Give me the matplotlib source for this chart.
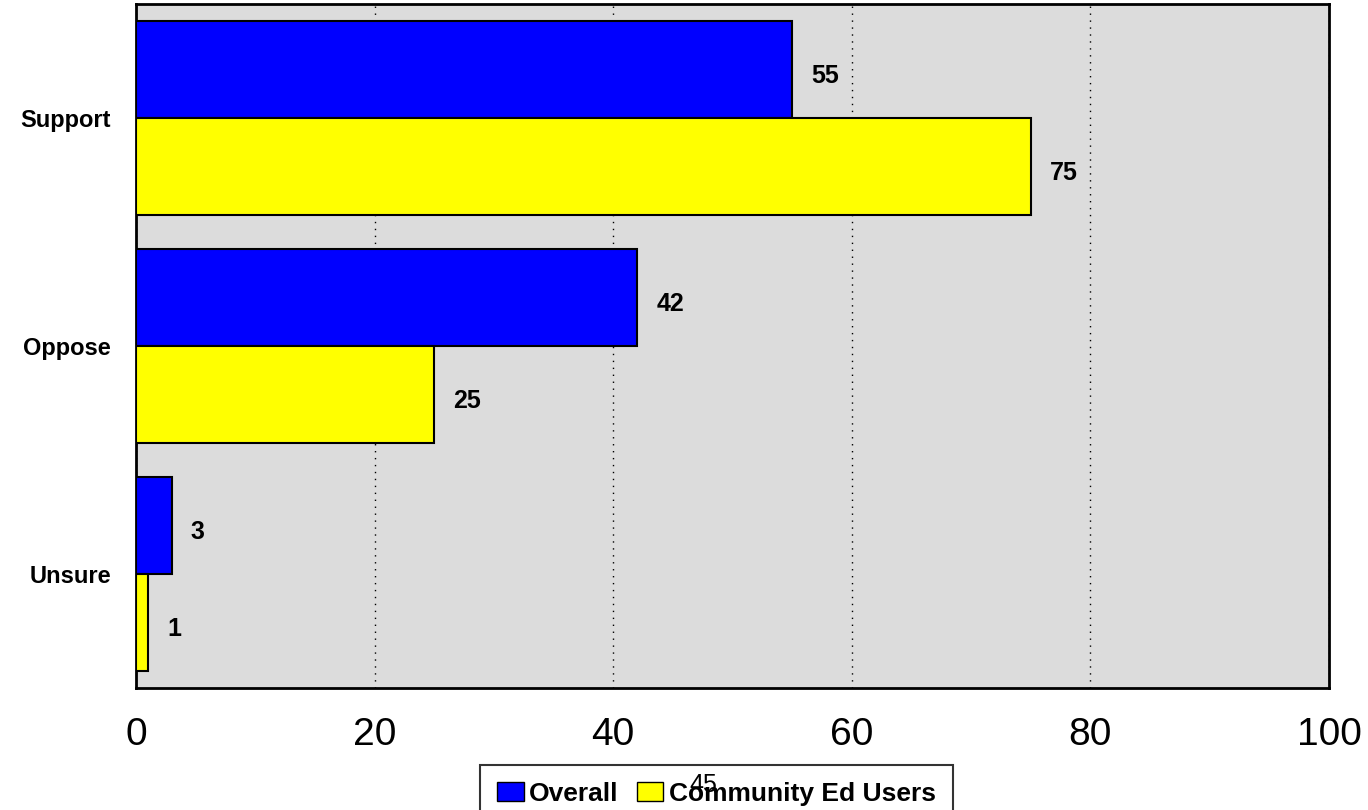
import numpy as np
import matplotlib
matplotlib.use("Agg")
from matplotlib import pyplot as plt
from matplotlib.patches import Patch

categories = ['Support', 'Oppose', 'Unsure']
overall = [55, 42, 3]
community = [75, 25, 1]
series_names = ['Overall', 'Community Ed Users']
xticks = [0, 20, 40, 60, 80, 100]

plt.rcParams['font.family'] = ['Liberation Sans', 'DejaVu Sans']

fig = plt.figure(figsize=(13.68, 8.1), dpi=100)
ax = fig.add_axes([0.0994, 0.1506, 0.8721, 0.8444])
ax.set_facecolor('#dcdcdc')

y = np.arange(len(categories))
h = 0.425
b1 = ax.barh(y - h / 2, overall, height=h, color='#0000ff', edgecolor='black', linewidth=1.5, zorder=3)
b2 = ax.barh(y + h / 2, community, height=h, color='#ffff00', edgecolor='black', linewidth=1.5, zorder=3)

for bars, vals in ((b1, overall), (b2, community)):
    for bar, v in zip(bars, vals):
        ax.text(v + 1.6, bar.get_y() + bar.get_height() / 2 + 0.03, str(v),
                fontsize=18, fontweight='bold', va='center', ha='left')

ax.set_xlim(0, 100)
ax.set_ylim(2.5, -0.5)
ax.set_xticks(xticks)
ax.set_xticklabels([str(t) for t in xticks], fontsize=28)
ax.set_yticks(y)
ax.set_yticklabels(categories, fontsize=17, fontweight='bold')
ax.tick_params(axis='both', length=0)
ax.tick_params(axis='x', pad=21)
ax.tick_params(axis='y', pad=18)
ax.xaxis.grid(True, linestyle=(0, (1, 4)), color='black', linewidth=1, zorder=1)
for s in ax.spines.values():
    s.set_linewidth(2)

handles = [Patch(facecolor='#0000ff', edgecolor='black'), Patch(facecolor='#ffff00', edgecolor='black')]
leg = fig.legend(handles, series_names, loc='upper center', bbox_to_anchor=(0.5238, 0.056),
                 ncol=2, fancybox=False, frameon=True, edgecolor='black',
                 prop={'size': 19, 'weight': 'bold'}, handlelength=1.0, handleheight=0.7,
                 handletextpad=0.2, columnspacing=0.7, borderpad=0.65, borderaxespad=0)
leg.get_frame().set_linewidth(1.5)

# page number sits on top of the legend in the original
fig.text(0.514, 0.031, '45', fontsize=18, ha='center', va='center', zorder=10)

fig.savefig('out.png', dpi=100)
